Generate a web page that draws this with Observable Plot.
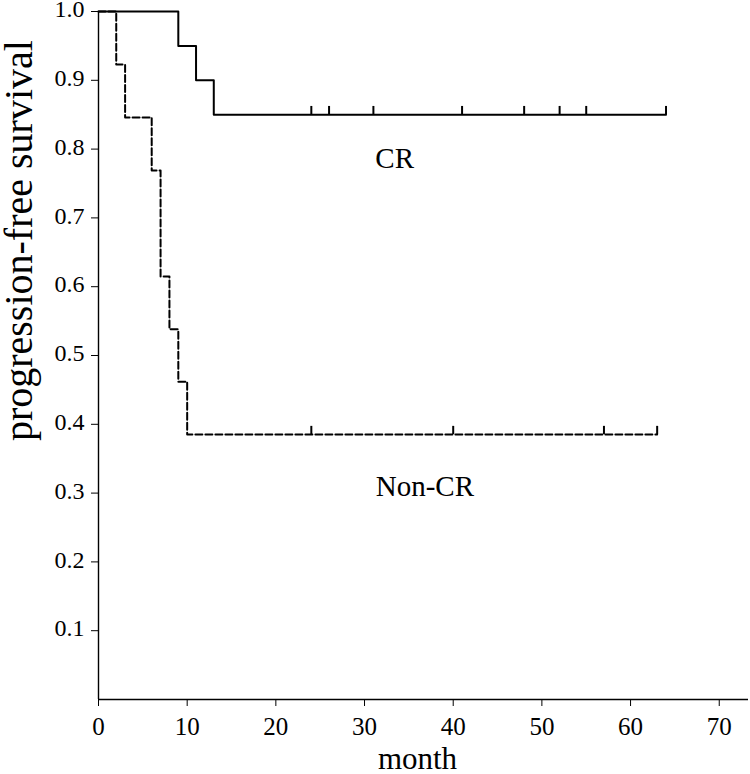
<!DOCTYPE html>
<html>
<head>
<meta charset="utf-8">
<script src="https://cdn.jsdelivr.net/npm/d3@7"></script>
<script src="https://cdn.jsdelivr.net/npm/@observablehq/plot@0.6"></script>
<style>
  html, body { margin: 0; padding: 0; background: #fff; }
  svg { display: block; }
</style>
</head>
<body>
<div id="chart"></div>
<script>
// Kaplan–Meier steps (month, survival)
const crTime = [0, 9, 11, 13, 64];
const crSurv = [1.0, 0.95, 0.90, 0.85, 0.85];
const ncTime = [0, 2, 3, 6, 7, 8, 9, 10, 63];
const ncSurv = [1.0, 0.923, 0.846, 0.769, 0.615, 0.538, 0.462, 0.385, 0.385];
// censored observations
const crCensor = [24, 26, 31, 41, 48, 52, 55, 64];
const ncCensor = [24, 40, 57, 63];
const crCensorLevel = 0.85;
const ncCensorLevel = 0.385;
// tick labels
const xTicks = [0, 10, 20, 30, 40, 50, 60, 70];
const yTicks = [0.1, 0.2, 0.3, 0.4, 0.5, 0.6, 0.7, 0.8, 0.9, 1.0];
// group labels
const groupNames = ["CR", "Non-CR"];
const groupLabelX = [33.4, 36.8];
const groupLabelY = [0.786, 0.31];
const xLabel = "month";
const yLabel = "progression-free survival";

const cr = crTime.map((t, i) => ({t, s: crSurv[i]}));
const nc = ncTime.map((t, i) => ({t, s: ncSurv[i]}));
const censorLen = 0.012;
const crC = crCensor.map(t => ({t, s1: crCensorLevel, s2: crCensorLevel + censorLen}));
const ncC = ncCensor.map(t => ({t, s1: ncCensorLevel, s2: ncCensorLevel + censorLen}));
const labels = groupNames.map((name, i) => ({name, x: groupLabelX[i], y: groupLabelY[i]}));

const font = "'Liberation Serif', 'Times New Roman', serif";

const chart = Plot.plot({
  width: 750,
  height: 774,
  marginLeft: 98,
  marginRight: 2,
  marginTop: 11,
  marginBottom: 75,
  style: {fontFamily: font, fontSize: "24px", color: "#000", background: "#fff"},
  x: {domain: [0, 73.3], axis: null},
  y: {domain: [0, 1], axis: null},
  marks: [
    // tick lines only
    Plot.axisX({ticks: xTicks, tickSize: 7, tickFormat: () => "", label: null}),
    Plot.axisY({ticks: yTicks, tickSize: 7, tickFormat: () => "", label: null}),
    // tick labels
    Plot.text(xTicks, {x: d => d, y: 0, text: d => String(d), dy: 27, fontSize: 25, fill: "#000"}),
    Plot.text(yTicks, {x: 0, y: d => d, text: d3.format(".1f"), textAnchor: "end", dx: -14, dy: -2, fontSize: 24, fill: "#000"}),
    Plot.ruleY([0], {stroke: "#000", strokeWidth: 1.4}),
    Plot.ruleX([0], {y1: 0, y2: 1, stroke: "#000", strokeWidth: 1.4}),
    Plot.line(nc, {x: "t", y: "s", curve: "step-after", stroke: "#000", strokeWidth: 2, strokeDasharray: "7,3"}),
    Plot.line(cr, {x: "t", y: "s", curve: "step-after", stroke: "#000", strokeWidth: 2}),
    Plot.ruleX(crC, {x: "t", y1: "s1", y2: "s2", stroke: "#000", strokeWidth: 2}),
    Plot.ruleX(ncC, {x: "t", y1: "s1", y2: "s2", stroke: "#000", strokeWidth: 2}),
    Plot.text(labels, {x: "x", y: "y", text: "name", fontSize: 29, fill: "#000"}),
    Plot.text([xLabel], {frameAnchor: "bottom", lineAnchor: "middle", text: d => d, dy: 60, dx: -6, fontSize: 31, fill: "#000"}),
    Plot.text([yLabel], {x: 0, y: 0.667, text: d => d, rotate: -90, dx: -79, fontSize: 40, fill: "#000"})
  ]
});
document.getElementById("chart").append(chart);
</script>
</body>
</html>
